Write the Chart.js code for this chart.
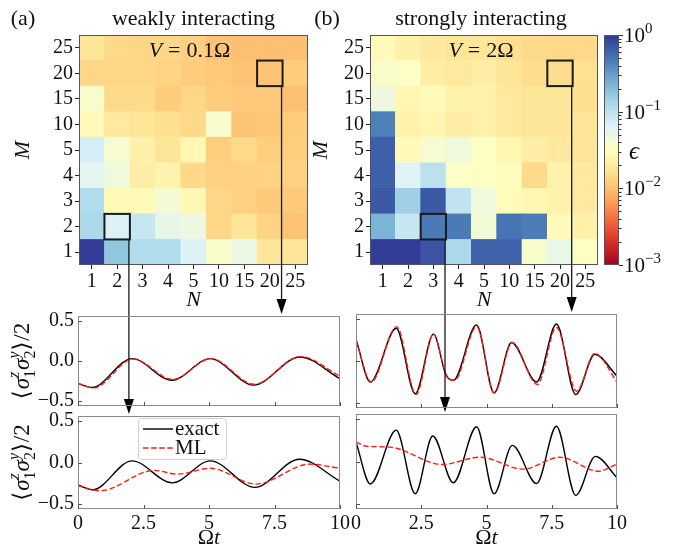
<!DOCTYPE html>
<html><head><meta charset="utf-8">
<script src="https://cdn.jsdelivr.net/npm/chart.js@4.4.1/dist/chart.umd.min.js"></script>
<style>
html,body{margin:0;padding:0;background:#fff;}
body{width:673px;height:546px;position:relative;overflow:hidden}
canvas{position:absolute}
</style></head><body>
<canvas id="hmA"></canvas><canvas id="hmB"></canvas><canvas id="cbar"></canvas>
<canvas id="tl"></canvas><canvas id="bl"></canvas><canvas id="tr"></canvas><canvas id="br"></canvas>
<canvas id="ov" width="673" height="546" style="left:0;top:0"></canvas>
<script>
// ---------- data ----------
const N_LABELS = ['1','2','3','4','5','10','15','20','25'];
const M_LABELS = ['1','2','3','4','5','10','15','20','25'];
// epsilon, weakly interacting (V = 0.1 Omega); one array per M row, columns N
const WEAK_M1  = [0.93, 0.172, 0.117, 0.117, 0.0653, 0.0351, 0.0495, 0.0176, 0.0176];
const WEAK_M2  = [0.126, 0.0653, 0.0891, 0.0531, 0.0479, 0.0138, 0.0176, 0.0133, 0.0105];
const WEAK_M3  = [0.117, 0.0285, 0.0285, 0.0417, 0.0275, 0.0138, 0.0129, 0.0116, 0.0116];
const WEAK_M4  = [0.0569, 0.0447, 0.0216, 0.0248, 0.0143, 0.0129, 0.0129, 0.0133, 0.0129];
const WEAK_M5  = [0.0724, 0.0389, 0.0232, 0.0182, 0.0266, 0.0124, 0.0143, 0.0124, 0.0124];
const WEAK_M10 = [0.0285, 0.0195, 0.0182, 0.0158, 0.0143, 0.0376, 0.0108, 0.0112, 0.0120];
const WEAK_M15 = [0.0376, 0.0148, 0.0148, 0.0120, 0.0138, 0.0120, 0.0116, 0.0116, 0.0101];
const WEAK_M20 = [0.0138, 0.0138, 0.0138, 0.0133, 0.0120, 0.0116, 0.0105, 0.0108, 0.0120];
const WEAK_M25 = [0.0182, 0.0143, 0.0138, 0.0138, 0.0129, 0.0105, 0.0101, 0.0101, 0.0101];
// epsilon, strongly interacting (V = 2 Omega)
const STRONG_M1  = [0.93, 0.93, 0.708, 0.126, 0.617, 0.617, 0.0363, 0.0513, 0.0327];
const STRONG_M2  = [0.226, 0.0891, 0.468, 0.468, 0.0417, 0.501, 0.452, 0.0285, 0.0232];
const STRONG_M3  = [0.684, 0.145, 0.684, 0.0955, 0.0447, 0.0295, 0.0257, 0.0240, 0.0195];
const STRONG_M4  = [0.638, 0.0631, 0.102, 0.0339, 0.0339, 0.0305, 0.0148, 0.0240, 0.0195];
const STRONG_M5  = [0.638, 0.0285, 0.0389, 0.0447, 0.0327, 0.0257, 0.0216, 0.0195, 0.0182];
const STRONG_M10 = [0.437, 0.0240, 0.0257, 0.0216, 0.0232, 0.0195, 0.0182, 0.0182, 0.0176];
const STRONG_M15 = [0.0462, 0.0257, 0.0295, 0.0240, 0.0232, 0.0195, 0.0182, 0.0182, 0.0158];
const STRONG_M20 = [0.0363, 0.0339, 0.0216, 0.0195, 0.0216, 0.0182, 0.0153, 0.0153, 0.0164];
const STRONG_M25 = [0.0285, 0.0232, 0.0195, 0.0182, 0.0182, 0.0158, 0.0148, 0.0143, 0.0143];
const WEAK_ROWS = [WEAK_M1, WEAK_M2, WEAK_M3, WEAK_M4, WEAK_M5, WEAK_M10, WEAK_M15, WEAK_M20, WEAK_M25];
const STRONG_ROWS = [STRONG_M1, STRONG_M2, STRONG_M3, STRONG_M4, STRONG_M5, STRONG_M10, STRONG_M15, STRONG_M20, STRONG_M25];
const CBAR_MIN = 1e-3, CBAR_MAX = 1;
const CBAR_TICKS = [1e-3, 1e-2, 1e-1, 1];
const CBAR_EXP = ['\u22123', '\u22122', '\u22121', '0'];

// time traces  <sigma1^z sigma2^y>/2
const X_TICKS = [0, 2.5, 5, 7.5, 10];
const Y_TICKS = [-0.5, 0, 0.5];
// (a) top: N=20, M=20
const TL_EXACT_T = [0, 0.53, 2.06, 3.58, 5.04, 6.70, 8.47, 10];
const TL_EXACT_Y = [-0.28, -0.33, 0.03, -0.24, 0.03, -0.30, 0.05, -0.22];
const TL_ML_T    = [0, 0.6, 2.1, 3.62, 5.08, 6.72, 8.5, 10];
const TL_ML_Y    = [-0.28, -0.335, 0.025, -0.23, 0.03, -0.29, 0.055, -0.19];
// (a) bottom: N=2, M=2
const BL_EXACT_T = [0, 0.55, 2.06, 3.6, 5.05, 6.75, 8.45, 10];
const BL_EXACT_Y = [-0.27, -0.33, 0.02, -0.245, 0.02, -0.30, 0.04, -0.225];
const BL_ML_T    = [0, 0.85, 2.9, 3.8, 5.05, 6.8, 8.85, 10];
const BL_ML_Y    = [-0.28, -0.34, -0.095, -0.14, -0.07, -0.26, -0.02, -0.07];
// (b) top: N=20, M=20
const TR_EXACT_T = [0, 0.55, 1.54, 2.27, 2.97, 3.45, 3.73, 4.62, 5.29, 5.96, 6.92, 7.68, 8.42, 9.15, 10];
const TR_EXACT_Y = [0.26, -0.25, 0.39, -0.39, 0.32, -0.17, -0.23, 0.43, -0.38, 0.22, -0.25, 0.44, -0.40, 0.08, -0.18];
const TR_ML_T    = [0, 0.58, 1.56, 2.3, 2.97, 3.45, 3.78, 4.62, 5.3, 5.98, 6.95, 7.68, 8.45, 9.15, 10];
const TR_ML_Y    = [0.25, -0.25, 0.41, -0.40, 0.32, -0.16, -0.23, 0.41, -0.38, 0.22, -0.28, 0.40, -0.36, 0.09, -0.25];
// (b) bottom: N=3, M=2
const BR_EXACT_T = [0, 0.55, 1.54, 2.27, 2.94, 3.73, 4.62, 5.29, 5.99, 6.92, 7.68, 8.42, 9.17, 10];
const BR_EXACT_Y = [0.23, -0.265, 0.37, -0.38, 0.30, -0.25, 0.41, -0.38, 0.19, -0.26, 0.415, -0.40, 0.06, -0.19];
const BR_ML_T    = [0, 0.4, 1.3, 3.3, 4.75, 6.4, 7.8, 9.3, 10];
const BR_ML_Y    = [0.23, 0.18, 0.17, -0.035, 0.05, -0.09, 0.05, -0.115, -0.03];

// ---------- helpers ----------
const F = '"Liberation Serif","DejaVu Serif",serif';
const RDYLBU = ['#a50026','#d73027','#f46d43','#fdae61','#fee090','#ffffbf','#e0f3f8','#abd9e9','#74add1','#4575b4','#313695'];
function hex2rgb(h){return [1,3,5].map(i=>parseInt(h.substr(i,2),16));}
function cmap(t){ t=Math.max(0,Math.min(1,t)); const s=t*10, i=Math.min(9,Math.floor(s)), f=s-i;
  const a=hex2rgb(RDYLBU[i]), b=hex2rgb(RDYLBU[i+1]);
  return 'rgb('+a.map((v,k)=>Math.round(v+(b[k]-v)*f)).join(',')+')'; }
function epsColor(e){ return cmap((Math.log10(e)-Math.log10(CBAR_MIN))/(Math.log10(CBAR_MAX)-Math.log10(CBAR_MIN))); }
function place(id,l,t,w,h){ const c=document.getElementById(id); c.width=w; c.height=h; c.style.left=l+'px'; c.style.top=t+'px'; return c; }
const base = {responsive:false, animation:false, events:[], plugins:{legend:{display:false}, tooltip:{enabled:false}}};

function heatmap(id, rows, geo){
  const cv = place(id, geo.l, geo.t, geo.w, geo.h);
  return new Chart(cv, {
    type:'bar',
    data:{labels:N_LABELS, datasets: rows.map((r,i)=>({label:'M = '+M_LABELS[i], data:r.map(()=>1),
      backgroundColor:r.map(epsColor), borderWidth:0, barPercentage:1, categoryPercentage:1}))},
    options:Object.assign({}, base, {layout:{padding:geo.pad},
      scales:{
        x:{stacked:true, grid:{offset:false, drawOnChartArea:false, tickLength:4, color:'#222'}, border:{display:false},
           ticks:{font:{family:F,size:20}, color:'#111', padding:1, autoSkip:false, maxRotation:0},
           afterFit:s=>{s.height=geo.xh;}},
        y:{stacked:true, min:0, max:9, afterBuildTicks:s=>{s.ticks=M_LABELS.map((_,i)=>({value:i+0.5}));},
           grid:{drawOnChartArea:false, tickLength:4, color:'#222'}, border:{display:false},
           ticks:{font:{family:F,size:20}, color:'#111', padding:2, callback:(v,i)=>M_LABELS[i]},
           afterFit:s=>{s.width=geo.yw;}}
      }})
  });
}
const pts=(T,Y)=>T.map((t,i)=>({x:t,y:Y[i]}));
function fmtY(v){ return v===0?'0.0':(v<0?'\u2212':'')+Math.abs(v).toFixed(1); }
function lineChart(id, geo, exT, exY, mlT, mlY){
  const cv = place(id, geo.l, geo.t, geo.w, geo.h);
  return new Chart(cv, {
    type:'line',
    data:{datasets:[
      {label:'ML', data:pts(mlT,mlY), borderColor:'#ff1a1a', borderDash:[5.5,2.6], borderWidth:1.4, pointRadius:0, cubicInterpolationMode:'monotone', fill:false, order:0},
      {label:'exact', data:pts(exT,exY), borderColor:'#000000', borderWidth:1.4, pointRadius:0, cubicInterpolationMode:'monotone', fill:false, order:1}]},
    options:Object.assign({}, base, {layout:{padding:geo.pad},
      scales:{
        x:{type:'linear', min:0, max:10, afterBuildTicks:s=>{s.ticks=X_TICKS.map(v=>({value:v}));},
           grid:{display:false, drawTicks:false}, border:{display:false},
           ticks:{display:geo.xl, font:{family:F,size:20}, color:'#111', padding:3, maxRotation:0, autoSkip:false, callback:v=>String(v)},
           afterFit:s=>{s.height=geo.xh;}},
        y:{type:'linear', min:-0.56, max:0.56, afterBuildTicks:s=>{s.ticks=Y_TICKS.map(v=>({value:v}));},
           grid:{display:false, drawTicks:false}, border:{display:false},
           ticks:{display:geo.yl, font:{family:F,size:20}, color:'#111', padding:4, callback:v=>fmtY(v)},
           afterFit:s=>{s.width=geo.yw;}}
      }})
  });
}

// ---------- charts ----------
const hmA = heatmap('hmA', WEAK_ROWS,   {l:0,   t:0, w:310, h:310, pad:{top:35,right:2,left:0,bottom:0}, xh:45, yw:79});
const hmB = heatmap('hmB', STRONG_ROWS, {l:300, t:0, w:300, h:310, pad:{top:35,right:2,left:0,bottom:0}, xh:45, yw:70});

const cbCv = place('cbar', 600, 0, 73, 310);
const cbar = new Chart(cbCv, {
  type:'bar',
  data:{labels:['\u03f5'], datasets:[{data:[[CBAR_MIN, CBAR_MAX]], borderWidth:0, barPercentage:1, categoryPercentage:1, borderSkipped:false,
    backgroundColor:(c)=>{const a=c.chart.chartArea; if(!a) return RDYLBU[5];
      const g=c.chart.ctx.createLinearGradient(0,a.bottom,0,a.top); RDYLBU.forEach((col,i)=>g.addColorStop(i/10,col)); return g;}}]},
  options:Object.assign({}, base, {layout:{padding:{left:4,top:35,right:0,bottom:45}},
    scales:{x:{display:false},
      y:{type:'logarithmic', position:'right', min:CBAR_MIN, max:CBAR_MAX, ticks:{display:false}, grid:{display:false}, border:{display:false},
         afterFit:s=>{s.width=54;}}}})
});

const tl = lineChart('tl', {l:0,   t:300, w:360, h:122, pad:{top:14,right:20,bottom:12,left:0}, xh:2,  yw:78, xl:false, yl:true}, TL_EXACT_T, TL_EXACT_Y, TL_ML_T, TL_ML_Y);
const bl = lineChart('bl', {l:0,   t:400, w:360, h:146, pad:{top:14,right:20,bottom:0,left:0},  xh:37, yw:78, xl:true,  yl:true}, BL_EXACT_T, BL_EXACT_Y, BL_ML_T, BL_ML_Y);
const tr = lineChart('tr', {l:345, t:300, w:286, h:122, pad:{top:14,right:14,bottom:12,left:0}, xh:2,  yw:11, xl:false, yl:false}, TR_EXACT_T, TR_EXACT_Y, TR_ML_T, TR_ML_Y);
const br = lineChart('br', {l:345, t:400, w:286, h:146, pad:{top:14,right:14,bottom:0,left:0},  xh:37, yw:11, xl:true,  yl:false}, BR_EXACT_T, BR_EXACT_Y, BR_ML_T, BR_ML_Y);

// ---------- overlay annotations ----------
const O = document.getElementById('ov').getContext('2d');
function A(ch){ const a=ch.chartArea, l=ch.canvas.offsetLeft, t=ch.canvas.offsetTop;
  return {left:a.left+l, right:a.right+l, top:a.top+t, bottom:a.bottom+t, l, t}; }
function segFont(s){ return (s.it?'italic ':'')+(s.size||20)+'px '+F; }
function itemW(it){ if(it.stack) return Math.max(...it.stack.map(itemW)); O.font=segFont(it); return O.measureText(it.t).width+(it.sp||0); }
function drawMath(items, x, y, align){
  const total = items.reduce((a,it)=>a+itemW(it),0);
  let cx = align==='center' ? x-total/2 : x;
  O.textAlign='left'; O.textBaseline='alphabetic';
  for(const it of items){ const w=itemW(it);
    for(const s of (it.stack||[it])){ O.font=segFont(s); O.fillText(s.t, cx+(s.dx||0), y+(s.dy||0)); }
    cx+=w; }
}
function drawMathRot(items, cx, cy, off){ O.save(); O.translate(cx,cy); O.rotate(-Math.PI/2); drawMath(items,0,off||7,'center'); O.restore(); }
O.fillStyle='#111'; O.strokeStyle='#111';

// heatmap frames, boxes, arrows
const BOXES = [
  {h:hmA, n:'2',  m:'2',  target:bl},
  {h:hmA, n:'20', m:'20', target:tl},
  {h:hmB, n:'3',  m:'2',  target:br},
  {h:hmB, n:'20', m:'20', target:tr}];
[hmA,hmB].forEach(h=>{const a=A(h); O.strokeStyle='#555'; O.lineWidth=1; O.strokeRect(a.left+0.5,a.top+0.5,a.right-a.left-1,a.bottom-a.top-1);});
BOXES.forEach(b=>{
  const a=A(b.h), ci=N_LABELS.indexOf(b.n), ri=M_LABELS.indexOf(b.m);
  const xc=a.l+b.h.scales.x.getPixelForValue(ci), half=(a.right-a.left)/N_LABELS.length/2;
  const yb=a.t+b.h.scales.y.getPixelForValue(ri), yt=a.t+b.h.scales.y.getPixelForValue(ri+1);
  O.strokeStyle='#1a1a1a'; O.lineWidth=2; O.strokeRect(xc-half, yt, 2*half, yb-yt);
  const ta=A(b.target), xr=xc+half-1, tip=ta.top-2;
  O.lineWidth=1.3; O.beginPath(); O.moveTo(xr,yb); O.lineTo(xr,tip-12); O.stroke();
  O.fillStyle='#000'; O.beginPath(); O.moveTo(xr-5,tip-15); O.lineTo(xr+5,tip-15); O.lineTo(xr,tip); O.closePath(); O.fill();
});

// line plot frames + inward ticks
[tl,bl,tr,br].forEach(ch=>{
  const a=A(ch); O.strokeStyle='#8a8a8a'; O.lineWidth=1;
  O.strokeRect(a.left+0.5,a.top+0.5,a.right-a.left-1,a.bottom-a.top-1);
  O.strokeStyle='#555';
  X_TICKS.forEach(v=>{const x=Math.round(a.l+ch.scales.x.getPixelForValue(v))+0.5; O.beginPath(); O.moveTo(x,a.bottom); O.lineTo(x,a.bottom-4); O.stroke();});
  Y_TICKS.forEach(v=>{const y=Math.round(a.t+ch.scales.y.getPixelForValue(v))+0.5; O.beginPath(); O.moveTo(a.left,y); O.lineTo(a.left+4,y); O.stroke();});
});

// colorbar frame, ticks, labels
(function(){
  const a=A(cbar), ys=cbar.scales.y;
  O.strokeStyle='#555'; O.lineWidth=1; O.strokeRect(a.left+0.5,a.top+0.5,a.right-a.left-1,a.bottom-a.top-1);
  O.strokeStyle='#333';
  for(let d=-3; d<0; d++) for(let k=2;k<10;k++){ const y=Math.round(a.t+ys.getPixelForValue(k*Math.pow(10,d)))+0.5;
    O.beginPath(); O.moveTo(a.right,y); O.lineTo(a.right+2.5,y); O.stroke(); }
  O.fillStyle='#111';
  CBAR_TICKS.forEach((v,i)=>{ const y=a.t+ys.getPixelForValue(v);
    O.beginPath(); O.moveTo(a.right,Math.round(y)+0.5); O.lineTo(a.right+4,Math.round(y)+0.5); O.stroke();
    drawMath([{t:'10',size:21},{t:CBAR_EXP[i],size:15,dy:-9}], a.right+5, y+7, 'left'); });
  drawMath([{t:'\u03f5',size:25,it:true}], a.right+10, (a.top+a.bottom)/2+9, 'left');
})();

// titles and axis labels
O.fillStyle='#111';
const aA=A(hmA), aB=A(hmB);
drawMath([{t:'(a)',size:22}], 23, 25, 'center');
drawMath([{t:'weakly interacting',size:22}], (aA.left+aA.right)/2, 25, 'center');
drawMath([{t:'(b)',size:22}], 327, 25, 'center');
drawMath([{t:'strongly interacting',size:22}], (aB.left+aB.right)/2-3, 25, 'center');
drawMath([{t:'V',size:22,it:true,sp:6},{t:'=',size:22,sp:6},{t:'0.1\u03a9',size:22}], (aA.left+aA.right)/2-4, aA.top+22, 'center');
drawMath([{t:'V',size:22,it:true,sp:6},{t:'=',size:22,sp:6},{t:'2\u03a9',size:22}], (aB.left+aB.right)/2-3, aB.top+22, 'center');
drawMath([{t:'N',size:22,it:true}], (aA.left+aA.right)/2, aA.bottom+41, 'center');
drawMath([{t:'N',size:22,it:true}], (aB.left+aB.right)/2, aB.bottom+41, 'center');
drawMathRot([{t:'M',size:22,it:true}], 22, (aA.top+aA.bottom)/2);
drawMathRot([{t:'M',size:22,it:true}], 320, (aB.top+aB.bottom)/2);
const YLAB = [{t:'\u27e8',size:23,sp:1},{t:'\u03c3',size:23,it:true},{stack:[{t:'z',size:16,it:true,dy:-10},{t:'1',size:16,dy:6}]},
  {t:'\u03c3',size:23,it:true},{stack:[{t:'y',size:16,it:true,dy:-10},{t:'2',size:16,dy:6}]},{t:'\u27e9',size:23,sp:1},{t:'/2',size:23}];
[tl,bl].forEach(ch=>{const a=A(ch); drawMathRot(YLAB, 22, (a.top+a.bottom)/2, 7);});
[bl,br].forEach(ch=>{const a=A(ch); drawMath([{t:'\u03a9',size:22},{t:'t',size:22,it:true}], (a.left+a.right)/2, a.bottom+35, 'center');});

// legend inside (a) bottom panel
(function(){
  const a=A(bl), x=a.left+60, y=a.top+2, w=88, h=41;
  O.fillStyle='rgba(255,255,255,0.85)'; O.strokeStyle='#d0d0d0'; O.lineWidth=1;
  O.beginPath(); O.roundRect(x+0.5,y+0.5,w,h,3); O.fill(); O.stroke();
  const dsEx = bl.data.datasets[1], dsMl = bl.data.datasets[0];
  [[dsEx,11],[dsMl,30]].forEach(([ds,dy])=>{
    O.strokeStyle=ds.borderColor; O.lineWidth=1.4; O.setLineDash(ds.borderDash||[]);
    O.beginPath(); O.moveTo(x+5,y+dy); O.lineTo(x+35,y+dy); O.stroke(); O.setLineDash([]);
    O.fillStyle='#111'; drawMath([{t:ds.label,size:21}], x+37, y+dy+6, 'left');
  });
})();
</script>
</body></html>
